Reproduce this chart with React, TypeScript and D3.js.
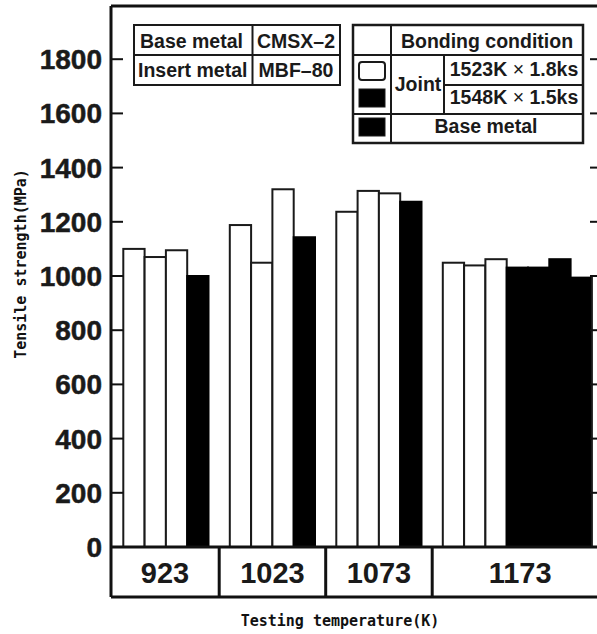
import React from 'react'
import * as d3 from 'd3'

// testing temperatures (K)
const categories = ['923', '1023', '1073', '1173']
// one entry per bar, left to right
const barCategory = ['923', '923', '923', '923', '1023', '1023', '1023', '1023', '1073', '1073', '1073', '1073',
  '1173', '1173', '1173', '1173', '1173', '1173', '1173', '1173']
const barSeries = ['j1523', 'j1523', 'j1523', 'base', 'j1523', 'j1523', 'j1523', 'base', 'j1523', 'j1523', 'j1523', 'base',
  'j1523', 'j1523', 'j1523', 'j1548', 'j1548', 'j1548', 'base', 'j1523']
const barValues = [1100, 1070, 1095, 1000, 1188, 1049, 1320, 1143, 1237, 1314, 1305, 1274,
  1049, 1039, 1062, 1031, 1031, 1062, 994, 1000]
const yTicks = [0, 200, 400, 600, 800, 1000, 1200, 1400, 1600, 1800]

const seriesFill: Record<string, string> = { j1523: '#fff', j1548: '#000', base: '#000' }

const W = 597
const H = 634
const axisX = 111
const frameTop = 6
const frameRight = 601
const baseY = 547
const boxBottom = 597
const groupPad = 10.6

const sans = '"Liberation Sans", Arial, Helvetica, sans-serif'
const mono = '"DejaVu Sans Mono", "Liberation Mono", monospace'

export default function App() {
  const y = d3.scaleLinear().domain([0, 1800]).range([baseY, 59.2])

  // slot keys: bars of each category then a one-bar gap
  const slots: string[] = []
  categories.forEach((c, ci) => {
    barCategory.forEach((bc, i) => { if (bc === c) slots.push('b' + i) })
    if (ci < categories.length - 1) slots.push('gap' + c)
  })
  const x = d3.scaleBand<string>().domain(slots).range([123.3, 123.3 + slots.length * 21.3]).padding(0)
  const bw = x.bandwidth()

  const boxes = categories.map((c, ci) => {
    const idx = barCategory.map((bc, i) => (bc === c ? i : -1)).filter(i => i >= 0)
    const left = ci === 0 ? axisX : (x('b' + idx[0]) as number) - groupPad
    const right = (x('b' + idx[idx.length - 1]) as number) + bw + groupPad
    return { c, left, right, mid: (left + Math.min(right, 608)) / 2 }
  })

  return (
    <svg width={W} height={H} style={{ position: 'absolute', left: 0, top: 0, background: '#fff' }}>
      <rect x={0} y={0} width={W} height={H} fill="#fff" />

      {/* bars */}
      {barValues.map((v, i) => {
        const fill = seriesFill[barSeries[i]]
        return (
          <rect key={i} x={x('b' + i)} y={y(v)} width={bw} height={baseY - y(v)}
            fill={fill} stroke={fill === '#fff' ? '#1a1a1a' : '#000'} strokeWidth={2} />
        )
      })}

      {/* frame */}
      <line x1={axisX} x2={axisX} y1={frameTop} y2={boxBottom} stroke="#111" strokeWidth={3} />
      <line x1={axisX} x2={W + 20} y1={frameTop} y2={frameTop} stroke="#111" strokeWidth={3} />
      <line x1={frameRight} x2={frameRight} y1={frameTop} y2={boxBottom} stroke="#111" strokeWidth={3} />
      <line x1={axisX} x2={W + 20} y1={baseY} y2={baseY} stroke="#111" strokeWidth={3} />
      <line x1={axisX} x2={W + 20} y1={boxBottom} y2={boxBottom} stroke="#111" strokeWidth={3} />

      {/* y ticks */}
      {yTicks.map(t => (
        <g key={t}>
          <line x1={axisX} x2={axisX + 12} y1={y(t)} y2={y(t)} stroke="#111" strokeWidth={2} />
          <line x1={frameRight - 11} x2={frameRight} y1={y(t)} y2={y(t)} stroke="#111" strokeWidth={2} />
          <text x={102} y={y(t)} dy="0.36em" textAnchor="end" fontFamily={sans} fontWeight="bold"
            fontSize={28} fill="#1a1a1a" stroke="#1a1a1a" strokeWidth={0.5}>{t}</text>
        </g>
      ))}

      {/* category boxes */}
      {boxes.map((b, i) => (
        <g key={b.c}>
          {i > 0 && <line x1={b.left} x2={b.left} y1={baseY} y2={boxBottom} stroke="#111" strokeWidth={3} />}
          <text x={b.mid} y={(baseY + boxBottom) / 2} dy="0.37em" textAnchor="middle" fontFamily={sans}
            fontWeight="bold" fontSize={29} fill="#1a1a1a">{b.c}</text>
        </g>
      ))}

      {/* axis titles */}
      <text transform="translate(26,264) rotate(-90)" textAnchor="middle" fontFamily={mono} fontWeight="bold"
        fontSize={15} fill="#111">Tensile strength(MPa)</text>
      <text x={340} y={626} textAnchor="middle" fontFamily={mono} fontWeight="bold" fontSize={15}
        fill="#111">Testing temperature(K)</text>

      {/* material table */}
      <g fontFamily={sans} fontWeight="bold" fontSize={19.5} fill="#1a1a1a" stroke="#1a1a1a">
        <rect x={134} y={25} width={206} height={60} fill="#fff" strokeWidth={2} />
        <line x1={134} x2={340} y1={55} y2={55} strokeWidth={2} />
        <line x1={252.5} x2={252.5} y1={25} y2={85} strokeWidth={2} />
        <text x={140} y={48} stroke="none">Base metal</text>
        <text x={257} y={48} stroke="none">CMSX–2</text>
        <text x={138} y={77} stroke="none">Insert metal</text>
        <text x={296} y={77} stroke="none" textAnchor="middle">MBF–80</text>
      </g>

      {/* bonding condition legend */}
      <g fontFamily={sans} fontWeight="bold" fontSize={19.5} fill="#1a1a1a" stroke="#1a1a1a">
        <rect x={353} y={25} width={230} height={118} fill="#fff" strokeWidth={2.5} />
        <line x1={353} x2={583} y1={55} y2={55} strokeWidth={2} />
        <line x1={444} x2={583} y1={85} y2={85} strokeWidth={2} />
        <line x1={353} x2={583} y1={114} y2={114} strokeWidth={2} />
        <line x1={391} x2={391} y1={25} y2={143} strokeWidth={2} />
        <line x1={444} x2={444} y1={55} y2={114} strokeWidth={2} />
        <rect x={359} y={62} width={26} height={18} rx={3} fill={seriesFill.j1523} strokeWidth={2} />
        <rect x={359} y={89} width={26} height={18} fill={seriesFill.j1548} strokeWidth={1} />
        <rect x={359} y={118} width={26} height={18} fill={seriesFill.base} strokeWidth={1} />
        <text x={487} y={48} stroke="none" textAnchor="middle">Bonding condition</text>
        <text x={418} y={91} stroke="none" textAnchor="middle">Joint</text>
        <text x={514} y={76} stroke="none" textAnchor="middle">1523K <tspan fontWeight="normal">×</tspan> 1.8ks</text>
        <text x={514} y={104} stroke="none" textAnchor="middle">1548K <tspan fontWeight="normal">×</tspan> 1.5ks</text>
        <text x={486} y={133} stroke="none" textAnchor="middle">Base metal</text>
      </g>
    </svg>
  )
}
